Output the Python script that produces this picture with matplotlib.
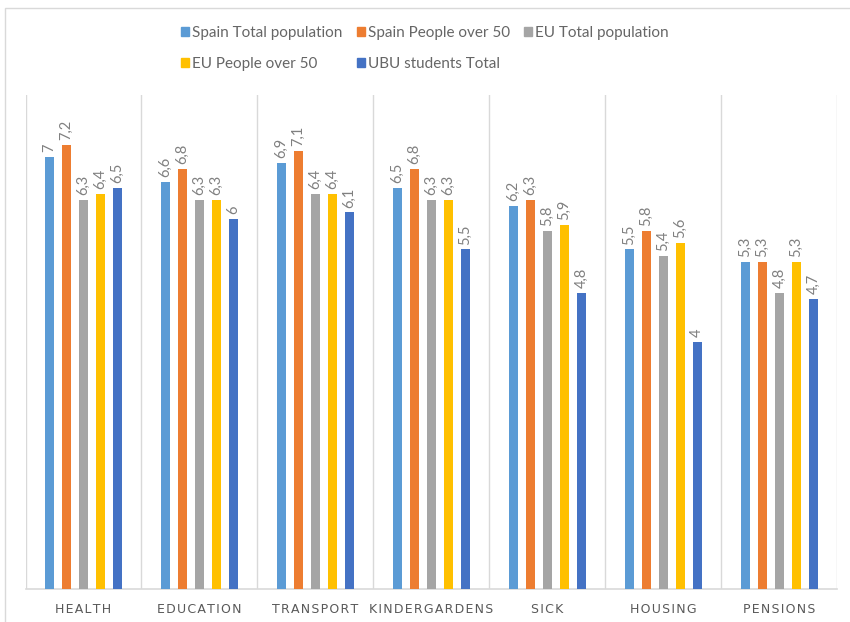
import matplotlib
matplotlib.use("Agg")
import matplotlib.pyplot as plt
from matplotlib.patches import Rectangle, Patch
import numpy as np

categories = ["HEALTH", "EDUCATION", "TRANSPORT", "KINDERGARDENS", "SICK", "HOUSING", "PENSIONS"]
series_names = ["Spain Total population", "Spain People over 50", "EU Total population",
                "EU People over 50", "UBU students Total"]
spain_total = [7, 6.6, 6.9, 6.5, 6.2, 5.5, 5.3]
spain_over50 = [7.2, 6.8, 7.1, 6.8, 6.3, 5.8, 5.3]
eu_total = [6.3, 6.3, 6.4, 6.3, 5.8, 5.4, 4.8]
eu_over50 = [6.4, 6.3, 6.4, 6.3, 5.9, 5.6, 5.3]
ubu_total = [6.5, 6, 6.1, 5.5, 4.8, 4, 4.7]
colors = ["#5B9BD5", "#ED7D31", "#A5A5A5", "#FFC000", "#4472C4"]

series = [spain_total, spain_over50, eu_total, eu_over50, ubu_total]

plt.rcParams['font.family'] = ['Lato', 'DejaVu Sans']

fig = plt.figure(figsize=(8.5, 6.22), dpi=100)
ax = fig.add_axes([0.030, 0.053, 0.955, 0.794])

x = np.arange(len(categories))
offsets = [-0.293, -0.147, 0.0, 0.147, 0.293]
width = 0.08
label_color = "#808080"

for vals, off, col in zip(series, offsets, colors):
    bars = ax.bar(x + off, vals, width, color=col, zorder=3)
    for b, v in zip(bars, vals):
        txt = (("%g" % v)).replace(".", ",")
        ax.text(b.get_x() + b.get_width() / 2, v + 0.08, txt, rotation=90,
                ha="center", va="bottom", fontsize=10.5, color=label_color)

ax.set_xlim(-0.5, len(categories) - 0.5)
ax.set_ylim(0, 8)
for b in np.arange(-0.5, len(categories), 1.0):
    ax.axvline(b, color="#D9D9D9", lw=1.0, zorder=1)
ax.set_yticks([])
ax.set_xticks(x)
ax.set_xticklabels(["\u200a".join(c) for c in categories],
                   family=['DejaVu Sans'], fontsize=9, color="#595959")
ax.tick_params(axis="x", length=0, pad=10)
for s in ["top", "left", "right"]:
    ax.spines[s].set_visible(False)
ax.spines["bottom"].set_color("#D9D9D9")
ax.spines["bottom"].set_linewidth(1.2)

handles = [Patch(color=c, label=n) for c, n in zip(colors, series_names)]
order = [0, 3, 1, 4, 2]
leg = fig.legend([handles[i] for i in order], [series_names[i] for i in order],
                 ncol=3, loc="center", bbox_to_anchor=(0.5, 0.922), frameon=False,
                 fontsize=11, handlelength=0.55, handleheight=0.55, handletextpad=0.2,
                 columnspacing=0.9, labelspacing=1.1, labelcolor="#666666")

fig.patches.append(Rectangle((0.006, -0.01), 1.1, 0.997, transform=fig.transFigure,
                             fill=False, edgecolor="#D9D9D9", lw=1.0))

fig.savefig("out.png", dpi=100)
